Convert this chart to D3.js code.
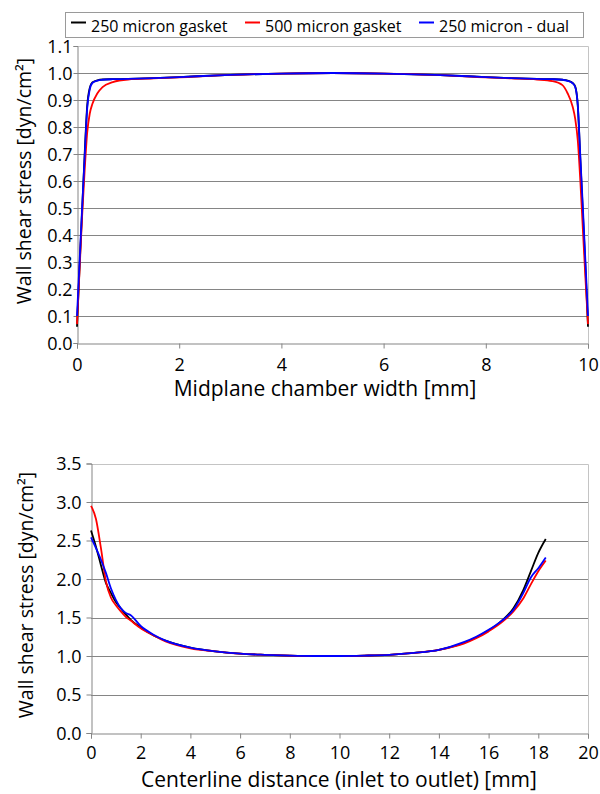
<!DOCTYPE html>
<html><head><meta charset="utf-8">
<script src="https://cdn.jsdelivr.net/npm/d3@7"></script>
<style>body{margin:0;background:#fff}svg{display:block}text{font-family:"Open Sans",sans-serif;fill:#000}</style>
</head><body>
<script>
// ---- data ----
const seriesNames = ["250 micron gasket", "500 micron gasket", "250 micron - dual"];
const seriesColors = ["#000000", "#ff0000", "#0000ff"];

const topX = [0, 0.05, 0.1, 0.15, 0.2, 0.25, 0.3, 0.4, 0.5, 0.7, 1, 1.5, 2, 3, 4, 5, 6, 7, 8, 8.5, 9, 9.3, 9.5, 9.6, 9.7, 9.75, 9.8, 9.85, 9.9, 9.95, 10];
const top250 = [0.06, 0.28, 0.49, 0.70, 0.88, 0.945, 0.965, 0.973, 0.976, 0.977, 0.978, 0.981, 0.985, 0.993, 0.998, 1.0, 0.998, 0.993, 0.985, 0.981, 0.978, 0.977, 0.975, 0.972, 0.963, 0.95, 0.88, 0.68, 0.48, 0.28, 0.06];
const top500 = [0.07, 0.27, 0.47, 0.64, 0.78, 0.85, 0.885, 0.925, 0.948, 0.966, 0.976, 0.980, 0.984, 0.993, 0.998, 1.0, 0.998, 0.993, 0.984, 0.980, 0.976, 0.970, 0.955, 0.925, 0.875, 0.83, 0.75, 0.6, 0.42, 0.24, 0.07];
const topDual = [0.10, 0.30, 0.50, 0.69, 0.87, 0.94, 0.963, 0.972, 0.975, 0.977, 0.978, 0.981, 0.985, 0.993, 0.998, 1.0, 0.998, 0.993, 0.985, 0.981, 0.978, 0.977, 0.975, 0.971, 0.962, 0.948, 0.88, 0.69, 0.50, 0.30, 0.10];

const botX = [0, 0.2, 0.4, 0.6, 0.8, 1.0, 1.2, 1.4, 1.6, 2, 2.5, 3, 4, 5, 6, 7, 8, 9, 10, 11, 12, 13, 14, 15, 15.5, 16, 16.5, 17, 17.4, 17.7, 18, 18.3];
const bot250 = [2.63, 2.42, 2.18, 1.95, 1.82, 1.70, 1.62, 1.54, 1.47, 1.37, 1.27, 1.20, 1.11, 1.06, 1.03, 1.015, 1.005, 1.0, 1.0, 1.005, 1.015, 1.04, 1.08, 1.17, 1.24, 1.33, 1.45, 1.62, 1.86, 2.10, 2.34, 2.52];
const bot500 = [2.95, 2.78, 2.40, 1.97, 1.76, 1.66, 1.58, 1.51, 1.46, 1.36, 1.27, 1.19, 1.10, 1.06, 1.03, 1.015, 1.005, 1.0, 1.0, 1.005, 1.015, 1.04, 1.08, 1.16, 1.23, 1.32, 1.43, 1.58, 1.75, 1.93, 2.10, 2.24];
const botDual = [2.54, 2.40, 2.25, 2.08, 1.88, 1.73, 1.62, 1.56, 1.53, 1.39, 1.28, 1.20, 1.11, 1.06, 1.03, 1.015, 1.005, 1.0, 1.0, 1.005, 1.015, 1.04, 1.08, 1.18, 1.25, 1.34, 1.45, 1.60, 1.82, 2.02, 2.14, 2.28];

const topXTicks = [0, 2, 4, 6, 8, 10];
const topYTicks = [0, 0.1, 0.2, 0.3, 0.4, 0.5, 0.6, 0.7, 0.8, 0.9, 1.0, 1.1];
const botXTicks = [0, 2, 4, 6, 8, 10, 12, 14, 16, 18, 20];
const botYTicks = [0, 0.5, 1.0, 1.5, 2.0, 2.5, 3.0, 3.5];

const topXTitle = "Midplane chamber width [mm]";
const botXTitle = "Centerline distance (inlet to outlet) [mm]";
const yTitle = "Wall shear stress [dyn/cm²]";

// ---- drawing ----
const svg = d3.select("body").append("svg").attr("width", 600).attr("height", 794);

function panel(cfg) {
  const x = d3.scaleLinear().domain(cfg.xDomain).range([cfg.left, cfg.right]);
  const y = d3.scaleLinear().domain(cfg.yDomain).range([cfg.bottom, cfg.top]);
  const g = svg.append("g");
  // gridlines
  g.selectAll("line.grid").data(cfg.yTicks.filter(v => v > cfg.yDomain[0] && v < cfg.yDomain[1]))
    .join("line").attr("x1", cfg.left).attr("x2", cfg.right)
    .attr("y1", d => Math.round(y(d)) + 0.5).attr("y2", d => Math.round(y(d)) + 0.5)
    .attr("stroke", "#858585").attr("stroke-width", 1);
  // plot border (top/right)
  g.append("path").attr("d", `M${cfg.left},${Math.round(cfg.top)+0.5}H${cfg.right+0.5}V${cfg.bottom}`)
    .attr("fill", "none").attr("stroke", "#c4c4c4").attr("stroke-width", 1);
  // axes
  const xAxis = d3.axisBottom(x).tickValues(cfg.xTicks).tickSize(5).tickFormat(d3.format("d"));
  const ax = g.append("g").attr("transform", `translate(0,${Math.round(cfg.bottom)+0.5})`).call(xAxis);
  ax.select(".domain").attr("stroke", "#858585");
  ax.selectAll(".tick line").attr("stroke", "#858585");
  ax.selectAll(".tick text").attr("font-size", 18).attr("font-family", "Open Sans").attr("fill", "#000")
    .attr("y", null).attr("dy", null).attr("transform", `translate(0,${cfg.xLabelBase - Math.round(cfg.bottom)})`);
  const yAxis = d3.axisLeft(y).tickValues(cfg.yTicks).tickSize(cfg.yTick).tickFormat(d3.format(".1f"));
  const ay = g.append("g").attr("transform", `translate(${Math.round(cfg.left)+0.5},0)`).call(yAxis);
  ay.select(".domain").attr("stroke", "#858585");
  ay.selectAll(".tick line").attr("stroke", "#858585");
  ay.selectAll(".tick text").attr("font-size", 18).attr("font-family", "Open Sans").attr("fill", "#000")
    .attr("x", -(Math.round(cfg.left) - cfg.yLabelRight)).attr("dy", "0.36em");
  // series
  const line = d3.line().x(d => x(d[0])).y(d => y(d[1])).curve(d3.curveMonotoneX);
  cfg.series.forEach((s, i) => {
    g.append("path").datum(cfg.xs.map((xv, j) => [xv, s[j]]))
      .attr("d", line).attr("fill", "none").attr("stroke", seriesColors[i])
      .attr("stroke-width", 1.8).attr("stroke-linejoin", "round");
  });
  // titles
  svg.append("text").attr("x", cfg.xTitleX).attr("y", cfg.xTitleY).attr("text-anchor", "middle")
    .attr("font-size", 21).text(cfg.xTitle);
  svg.append("text").attr("transform", `translate(${cfg.yTitleX},${cfg.yTitleY}) rotate(-90)`)
    .attr("text-anchor", "middle").attr("font-size", 19.5).text(yTitle);
}

panel({
  xDomain: [0, 10], yDomain: [0, 1.1], left: 77, right: 588, top: 46, bottom: 343,
  xTicks: topXTicks, yTicks: topYTicks, yTick: 4, yLabelRight: 72, xLabelBase: 370,
  xs: topX, series: [top250, top500, topDual],
  xTitle: topXTitle, xTitleX: 325, xTitleY: 396, yTitleX: 31, yTitleY: 181
});
panel({
  xDomain: [0, 20], yDomain: [0, 3.5], left: 91, right: 588, top: 463.5, bottom: 733,
  xTicks: botXTicks, yTicks: botYTicks, yTick: 5, yLabelRight: 81, xLabelBase: 758,
  xs: botX, series: [bot250, bot500, botDual],
  xTitle: botXTitle, xTitleX: 339, xTitleY: 787, yTitleX: 33, yTitleY: 595
});

// legend
const lg = svg.append("g");
lg.append("rect").attr("x", 65.5).attr("y", 12.5).attr("width", 518).attr("height", 25)
  .attr("fill", "#fff").attr("stroke", "#9a9a9a").attr("stroke-width", 1);
const legendX = [71, 245, 419];
seriesNames.forEach((name, i) => {
  lg.append("line").attr("x1", legendX[i]).attr("x2", legendX[i] + 15).attr("y1", 22.5).attr("y2", 22.5)
    .attr("stroke", seriesColors[i]).attr("stroke-width", 2);
  lg.append("text").attr("x", legendX[i] + 20).attr("y", 31.5).attr("font-size", 16).text(name);
});
</script>
</body></html>
